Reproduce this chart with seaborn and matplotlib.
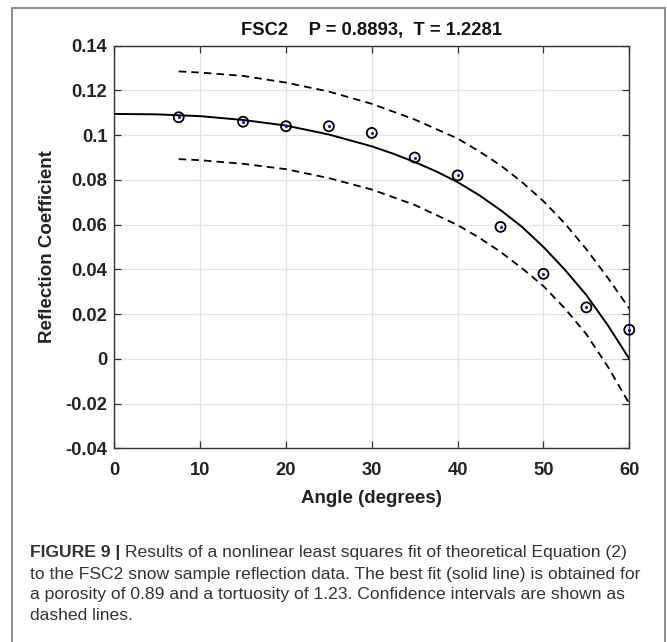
import matplotlib
matplotlib.use("Agg")
import matplotlib.pyplot as plt
import seaborn as sns
import pandas as pd
from matplotlib.patches import Rectangle

# ---- data ----
angle_obs = [7.5, 15, 20, 25, 30, 35, 40, 45, 50, 55, 60]
refl_obs = [0.108, 0.106, 0.104, 0.104, 0.101, 0.090, 0.082, 0.059, 0.038, 0.023, 0.013]

fit_angle = [0, 5, 10, 15, 20, 25, 30, 32.5, 35, 37.5, 40, 42.5, 45, 47.5, 50, 52.5, 55, 57.5, 60]
fit_refl = [0.1095, 0.1093, 0.1085, 0.1068, 0.1043, 0.1003, 0.0950, 0.0917, 0.0880, 0.0838,
            0.0790, 0.0732, 0.0665, 0.0590, 0.0500, 0.0398, 0.0285, 0.0150, 0.0000]

ci_angle = [7.5, 10, 15, 20, 25, 30, 35, 40, 42.5, 45, 47.5, 50, 52.5, 55, 57.5, 60]
ci_upper = [0.1285, 0.1280, 0.1265, 0.1235, 0.1195, 0.1140, 0.1070, 0.0985, 0.0928, 0.0865,
            0.0790, 0.0705, 0.0605, 0.0490, 0.0362, 0.0225]
ci_lower = [0.0893, 0.0888, 0.0872, 0.0848, 0.0808, 0.0757, 0.0688, 0.0598, 0.0542, 0.0478,
            0.0405, 0.0325, 0.0225, 0.0110, -0.0035, -0.0200]

x_ticks = [0, 10, 20, 30, 40, 50, 60]
y_ticks = [-0.04, -0.02, 0, 0.02, 0.04, 0.06, 0.08, 0.1, 0.12, 0.14]
y_tick_labels = ["-0.04", "-0.02", "0", "0.02", "0.04", "0.06", "0.08", "0.1", "0.12", "0.14"]

title = "FSC2    P = 0.8893,  T = 1.2281"
x_label = "Angle (degrees)"
y_label = "Reflection Coefficient"
caption_lines = [
    ("FIGURE 9 | ", "Results of a nonlinear least squares fit of theoretical Equation (2)"),
    ("", "to the FSC2 snow sample reflection data. The best fit (solid line) is obtained for"),
    ("", "a porosity of 0.89 and a tortuosity of 1.23. Confidence intervals are shown as"),
    ("", "dashed lines."),
]

# ---- styling ----
sns.set_theme(style="white")
plt.rcParams["font.family"] = ["Liberation Sans", "DejaVu Sans"]

W, H = 667, 642
fig = plt.figure(figsize=(W / 100, H / 100), dpi=100)
fig.patch.set_facecolor("white")

L, R, T, B = 114.3, 629.3, 45.7, 448.3
ax = fig.add_axes([L / W, 1 - B / H, (R - L) / W, (B - T) / H])

fit_df = pd.DataFrame({"angle": fit_angle, "refl": fit_refl})
ci_df = pd.DataFrame({"angle": ci_angle, "upper": ci_upper, "lower": ci_lower})
obs_df = pd.DataFrame({"angle": angle_obs, "refl": refl_obs})

sns.lineplot(data=fit_df, x="angle", y="refl", ax=ax, color="black", linewidth=1.4,
             sort=False, zorder=3)
for col in ["upper", "lower"]:
    sns.lineplot(data=ci_df, x="angle", y=col, ax=ax, color="black", linewidth=1.3,
                 sort=False, zorder=3)
for line in ax.get_lines()[1:]:
    line.set_dashes((4.2, 2.8))

sns.scatterplot(data=obs_df, x="angle", y="refl", ax=ax, marker="o", s=52,
                facecolor="none", edgecolor="black", linewidth=1.3, zorder=4, clip_on=False)
sns.scatterplot(data=obs_df, x="angle", y="refl", ax=ax, marker="o", s=5,
                color="#1010e0", linewidth=0, zorder=5, clip_on=False)

ax.set_xlim(0, 60)
ax.set_ylim(-0.04, 0.14)
ax.set_xticks(x_ticks)
ax.set_xticklabels([str(t) for t in x_ticks])
ax.set_yticks(y_ticks)
ax.set_yticklabels(y_tick_labels)

ax.grid(True, color="#e3e3e3", linewidth=0.9)
ax.set_axisbelow(True)
for sp in ax.spines.values():
    sp.set_visible(True)
    sp.set_color("#333333")
    sp.set_linewidth(1.0)

ax.tick_params(axis="both", which="major", direction="in", length=5, width=0.9,
               color="#333333", top=True, right=True, bottom=True, left=True,
               labelsize=13.2, labelcolor="#222222")
ax.tick_params(axis="x", pad=10)
ax.tick_params(axis="y", pad=5)
for lbl in ax.get_xticklabels() + ax.get_yticklabels():
    lbl.set_fontweight("bold")

ax.set_title(title, fontsize=13.2, fontweight="bold", color="#111111", pad=8)
ax.set_xlabel(x_label, fontsize=13.5, fontweight="bold", color="#222222", labelpad=8)
ax.set_ylabel(y_label, fontsize=13.5, fontweight="bold", color="#222222", labelpad=7)

# ---- outer frame of the figure panel ----
fig.patches.append(Rectangle((12 / W, -0.01), (665 - 12) / W, 1 - 8 / H + 0.01,
                             transform=fig.transFigure, fill=False,
                             edgecolor="#8a8a8a", linewidth=1.4))

# ---- caption ----
cap_y = [552, 574, 595, 616]
cap_x = 30
cap_fs = 12.6
fig.canvas.draw()
for (bold, rest), y in zip(caption_lines, cap_y):
    x2 = cap_x
    if bold:
        t = fig.text(cap_x / W, 1 - y / H, bold, fontsize=cap_fs, fontweight="bold",
                     color="#333333", va="center", ha="left")
        fig.canvas.draw()
        x2 = t.get_window_extent().x1
    fig.text(x2 / W, 1 - y / H, rest, fontsize=cap_fs, color="#333333",
             va="center", ha="left")

fig.savefig("out.png", dpi=100)
